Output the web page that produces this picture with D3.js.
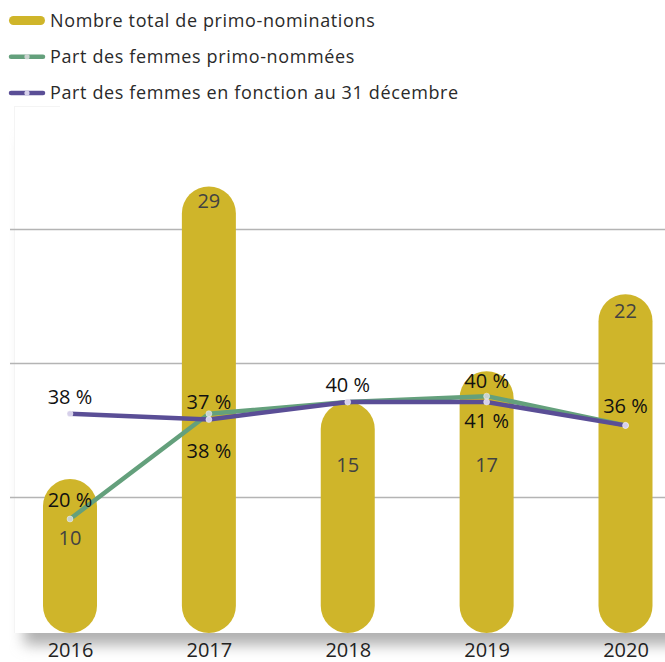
<!DOCTYPE html>
<html>
<head>
<meta charset="utf-8">
<script src="https://cdn.jsdelivr.net/npm/d3@7"></script>
<style>
  html, body { margin: 0; padding: 0; background: #fff; }
  svg { display: block; font-family: "Open Sans", sans-serif; }
</style>
</head>
<body>
<svg id="chart" width="665" height="662"></svg>
<script>
// Years shown on the x axis
const years = ["2016", "2017", "2018", "2019", "2020"];
// Total number of first appointments per year
const totalNominations = [10, 29, 15, 17, 22];
// Share of women among first appointees (%)
const shareWomenAppointed = [20, 38, 40, 41, 36];
// Share of women in office at 31 December (%)
const shareWomenInOffice = [38, 37, 40, 40, 36];
// Horizontal grid lines, in nomination units
const gridValues = [8.85, 17.55, 26.25];

const legendLabels = [
  "Nombre total de primo-nominations",
  "Part des femmes primo-nommées",
  "Part des femmes en fonction au 31 décembre"
];

const colors = {
  bar: "#cfb52a",
  appointed: "#64a07c",
  inOffice: "#5a4e96",
  grid: "#b4b4b4"
};

const svg = d3.select("#chart");
const W = 665, H = 662;
const baseY = 633;
const barW = 54;

const x = d3.scalePoint().domain(years).range([70, 625.5]);
const yCount = d3.scaleLinear().domain([0, 29]).range([baseY, 186.4]);
const yPct = d3.scaleLinear().domain([0, 100]).range([636, 51]);

// Plot background with a soft shadow beneath
const defs = svg.append("defs");
const f = defs.append("filter").attr("id", "shadow")
  .attr("x", "-10%").attr("y", "-10%").attr("width", "120%").attr("height", "130%");
f.append("feGaussianBlur").attr("stdDeviation", 7);

svg.append("rect")
  .attr("x", 24).attr("y", 140).attr("width", W).attr("height", baseY - 128)
  .attr("fill", "#b0b0b0").attr("filter", "url(#shadow)");
svg.append("rect")
  .attr("x", 14).attr("y", 106).attr("width", W).attr("height", baseY - 106)
  .attr("fill", "#fff");
svg.append("line")
  .attr("x1", 14.5).attr("x2", 14.5).attr("y1", 106).attr("y2", baseY)
  .attr("stroke", "#f4f4f4");
svg.append("line")
  .attr("x1", 14).attr("x2", 60).attr("y1", 106.5).attr("y2", 106.5)
  .attr("stroke", "#f4f4f4");

// Grid lines
svg.append("g").selectAll("line").data(gridValues).join("line")
  .attr("x1", 10).attr("x2", W)
  .attr("y1", d => Math.round(yCount(d)) + 0.5)
  .attr("y2", d => Math.round(yCount(d)) + 0.5)
  .attr("stroke", colors.grid).attr("stroke-width", 1.6);

// Rounded bars
const barData = years.map((yr, i) => ({ year: yr, value: totalNominations[i] }));
svg.append("g").selectAll("rect").data(barData).join("rect")
  .attr("x", d => x(d.year) - barW / 2)
  .attr("width", barW)
  .attr("y", d => yCount(d.value))
  .attr("height", d => baseY - yCount(d.value))
  .attr("rx", barW / 2).attr("ry", barW / 2)
  .attr("fill", colors.bar);

// Nomination count labels (offset from bar top, in px)
const countLabelOffset = { "2016": 59, "2017": 14, "2018": 63, "2019": 94, "2020": 17 };
svg.append("g").selectAll("text").data(barData).join("text")
  .attr("x", d => x(d.year))
  .attr("y", d => yCount(d.value) + countLabelOffset[d.year])
  .attr("dy", "0.36em")
  .attr("text-anchor", "middle")
  .attr("font-size", 20)
  .attr("fill", "#424242")
  .text(d => d.value);

// Percentage lines
const line = d3.line().x(d => x(d.year)).y(d => yPct(d.value));
const appointed = years.map((yr, i) => ({ year: yr, value: shareWomenAppointed[i] }));
const inOffice = years.map((yr, i) => ({ year: yr, value: shareWomenInOffice[i] }));

function drawSeries(data, color, markerFill) {
  svg.append("path").datum(data)
    .attr("d", line)
    .attr("fill", "none")
    .attr("stroke", color)
    .attr("stroke-width", 4.5)
    .attr("stroke-linejoin", "round");
  svg.append("g").selectAll("circle").data(data).join("circle")
    .attr("cx", d => x(d.year)).attr("cy", d => yPct(d.value))
    .attr("r", 3)
    .attr("fill", markerFill)
    .attr("stroke", "#ffffff").attr("stroke-opacity", 0.5).attr("stroke-width", 0.8);
}
drawSeries(appointed, colors.appointed, "#c9d3cf");
drawSeries(inOffice, colors.inOffice, "#d6d0ea");

// Percentage labels: baseline offset from each point
const pctLabels = [
  { year: "2016", value: shareWomenInOffice[0], ref: shareWomenInOffice[0], dy: -10 },
  { year: "2016", value: shareWomenAppointed[0], ref: shareWomenAppointed[0], dy: -12 },
  { year: "2017", value: shareWomenInOffice[1], ref: shareWomenInOffice[1], dy: -11 },
  { year: "2017", value: shareWomenAppointed[1], ref: shareWomenInOffice[1], dy: 38 },
  { year: "2018", value: shareWomenInOffice[2], ref: shareWomenInOffice[2], dy: -10 },
  { year: "2019", value: shareWomenInOffice[3], ref: shareWomenAppointed[3], dy: -8 },
  { year: "2019", value: shareWomenAppointed[3], ref: shareWomenInOffice[3], dy: 26 },
  { year: "2020", value: shareWomenInOffice[4], ref: shareWomenInOffice[4], dy: -12 }
];
svg.append("g").selectAll("text").data(pctLabels).join("text")
  .attr("x", d => x(d.year))
  .attr("y", d => yPct(d.ref) + d.dy)
  .attr("text-anchor", "middle")
  .attr("font-size", 20)
  .attr("fill", "#111")
  .text(d => d.value + " %");

// X axis
const xAxis = svg.append("g")
  .attr("transform", `translate(0,${baseY})`)
  .call(d3.axisBottom(x).tickSize(0).tickPadding(10));
xAxis.select(".domain").remove();
xAxis.selectAll("text")
  .attr("font-size", 20)
  .attr("font-family", "'Open Sans', sans-serif")
  .attr("fill", "#222");

// Legend
const legend = svg.append("g");
const legendY = [20.5, 56.7, 93];
const baselines = [26.7, 63, 99.3];
legend.append("rect")
  .attr("x", 9).attr("y", legendY[0] - 4.5).attr("width", 36).attr("height", 9)
  .attr("rx", 4.5).attr("fill", colors.bar);
[[colors.appointed, "#c9d3cf"], [colors.inOffice, "#d6d0ea"]].forEach(([c, mf], i) => {
  const cy = legendY[i + 1];
  legend.append("line")
    .attr("x1", 11).attr("x2", 43).attr("y1", cy).attr("y2", cy)
    .attr("stroke", c).attr("stroke-width", 4.5).attr("stroke-linecap", "round");
  legend.append("circle").attr("cx", 27).attr("cy", cy).attr("r", 2.6).attr("fill", mf);
});
legend.selectAll("text").data(legendLabels).join("text")
  .attr("x", 50)
  .attr("y", (d, i) => baselines[i])
  .attr("font-size", 18)
  .attr("letter-spacing", 0.63)
  .attr("fill", "#2a2a2a")
  .text(d => d);
</script>
</body>
</html>
